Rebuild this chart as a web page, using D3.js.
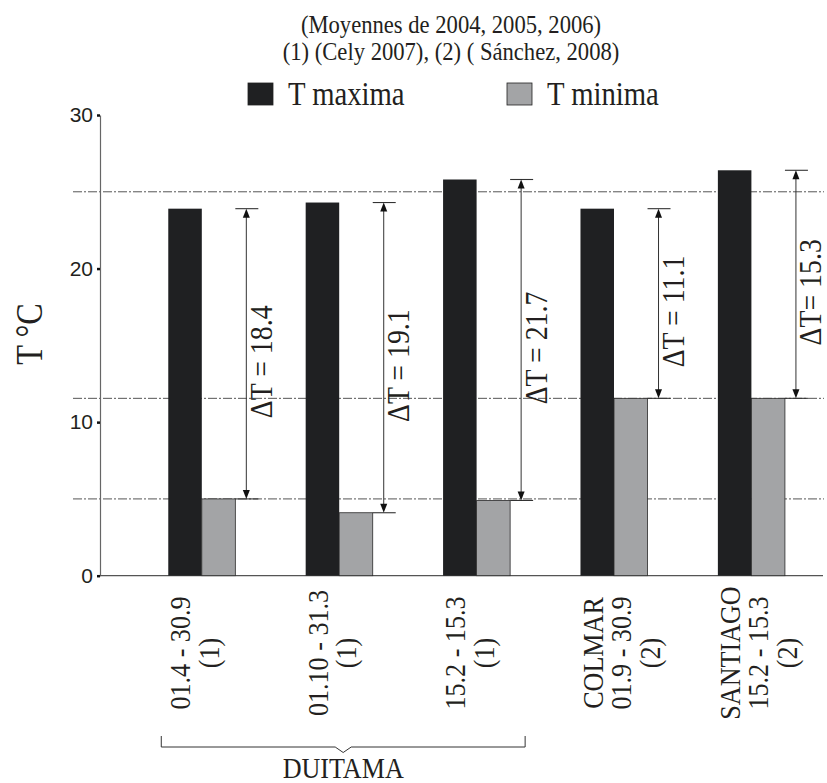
<!DOCTYPE html>
<html>
<head>
<meta charset="utf-8">
<script src="https://cdn.jsdelivr.net/npm/d3@7"></script>
<style>
  body { margin: 0; background: #fff; }
  svg { display: block; }
</style>
</head>
<body>
<div id="chart"></div>
<script>
// data
const categories = ["d1", "d2", "d3", "colmar", "santiago"];
const catLines = [
  ["01.4 - 30.9", "(1)"],
  ["01.10 - 31.3", "(1)"],
  ["15.2 - 15.3", "(1)"],
  ["COLMAR", "01.9 - 30.9", "(2)"],
  ["SANTIAGO", "15.2 - 15.3", "(2)"]
];
const tMax = [23.9, 24.3, 25.8, 23.9, 26.4];
const tMin = [5.0, 4.1, 4.9, 11.55, 11.55];
const deltaLabels = ["\u0394T = 18.4", "\u0394T = 19.1", "\u0394T = 21.7", "\u0394T = 11.1", "\u0394T= 15.3"];
const refLines = [25, 11.55, 5];
const yTicks = [0, 10, 20, 30];
const seriesNames = ["T maxima", "T minima"];
const titleLines = ["(Moyennes de 2004, 2005, 2006)", "(1) (Cely 2007), (2) ( S\u00e1nchez, 2008)"];

const width = 827, height = 783;
const serif = "Liberation Serif, Times New Roman, Tinos, DejaVu Serif, serif";
const colMax = "#1f2022", colMin = "#a3a4a6";

const svg = d3.select("#chart").append("svg")
  .attr("width", width)
  .attr("height", height);

// the original type is a condensed Times; work out how much to squeeze
// whatever serif font we actually got so widths come out the same
const probe = svg.append("text")
  .attr("font-family", serif)
  .attr("font-size", 100)
  .text(titleLines[0]);
const probeLen = probe.node().getComputedTextLength();
probe.remove();
const squeeze = 0.87 * (1327.6 / (probeLen || 1327.6));

const x = d3.scaleBand()
  .domain(categories)
  .range([100, 823])
  .paddingInner(0.512)
  .paddingOuter(0.387)
  .align(0.642);

const xSub = d3.scaleBand()
  .domain(["max", "min"])
  .range([0, x.bandwidth()]);

const y = d3.scaleLinear()
  .domain([0, 30])
  .range([575.7, 115]);

// condensed text helper
function ctext(parent, px, py, rot, str, size, anchor) {
  return parent.append("text")
    .attr("transform", `translate(${px},${py}) rotate(${rot}) scale(${squeeze},1)`)
    .attr("text-anchor", anchor || "start")
    .attr("font-family", serif)
    .attr("font-size", size)
    .attr("fill", "#231f20")
    .text(str);
}

// title
titleLines.forEach((t, i) => {
  ctext(svg, 451, 32.5 + i * 27, 0, t, 26, "middle");
});

// legend
const legend = svg.append("g");
[[248, colMax], [507, colMin]].forEach((d, i) => {
  legend.append("rect")
    .attr("x", d[0]).attr("y", 83)
    .attr("width", 25).attr("height", 22)
    .attr("fill", d[1])
    .attr("stroke", "#222")
    .attr("stroke-width", 0.8);
  ctext(legend, d[0] + 40, 105, 0, seriesNames[i], 33, "start");
});

// dash-dot reference lines
svg.selectAll(".ref")
  .data(refLines)
  .enter()
  .append("line")
  .attr("x1", 73).attr("x2", 824)
  .attr("y1", d => y(d)).attr("y2", d => y(d))
  .attr("stroke", "#555")
  .attr("stroke-width", 1)
  .attr("stroke-dasharray", "9,2,2,2");

// y axis
const yAxis = svg.append("g")
  .attr("transform", "translate(100,0)")
  .call(d3.axisLeft(y).tickValues(yTicks).tickSize(3).tickSizeOuter(0).tickPadding(4));
yAxis.select(".domain").attr("stroke", "#666").attr("stroke-width", 1.2);
yAxis.selectAll(".tick line").attr("stroke", "#111").attr("stroke-width", 2.5);
yAxis.selectAll(".tick text")
  .attr("font-family", "Liberation Sans, Arial, sans-serif")
  .attr("font-size", 21)
  .attr("fill", "#231f20");

ctext(svg, 42, 334, -90, "T \u00b0C", 37, "middle");

// x axis line
svg.append("line")
  .attr("x1", 100).attr("x2", 823)
  .attr("y1", y(0)).attr("y2", y(0))
  .attr("stroke", "#555")
  .attr("stroke-width", 1.2);

// bars
const groups = svg.selectAll(".grp")
  .data(categories)
  .enter()
  .append("g")
  .attr("transform", d => `translate(${x(d)},0)`);

groups.append("rect")
  .attr("x", xSub("max"))
  .attr("y", (d, i) => y(tMax[i]))
  .attr("width", xSub.bandwidth())
  .attr("height", (d, i) => y(0) - y(tMax[i]))
  .attr("fill", colMax);

groups.append("rect")
  .attr("x", xSub("min"))
  .attr("y", (d, i) => y(tMin[i]))
  .attr("width", xSub.bandwidth())
  .attr("height", (d, i) => y(0) - y(tMin[i]))
  .attr("fill", colMin)
  .attr("stroke", "#2a2a2a")
  .attr("stroke-width", 0.8);

// delta T arrows
const arrowCol = "#333";
categories.forEach((c, i) => {
  const ax = x(c) + x.bandwidth() + 11;
  const yt = y(tMax[i]), yb = y(tMin[i]);
  const g = svg.append("g");
  g.append("line")
    .attr("x1", ax).attr("x2", ax)
    .attr("y1", yt + 6).attr("y2", yb - 6)
    .attr("stroke", arrowCol).attr("stroke-width", 1);
  [yt, yb].forEach(yy => {
    g.append("line")
      .attr("x1", ax - 11).attr("x2", ax + 12)
      .attr("y1", yy).attr("y2", yy)
      .attr("stroke", arrowCol).attr("stroke-width", 1.1);
  });
  g.append("path")
    .attr("d", `M${ax},${yt} L${ax - 3.5},${yt + 9} L${ax + 3.5},${yt + 9} Z`)
    .attr("fill", "#111");
  g.append("path")
    .attr("d", `M${ax},${yb} L${ax - 3.5},${yb - 9} L${ax + 3.5},${yb - 9} Z`)
    .attr("fill", "#111");
  ctext(svg, ax + 25.5, (yt + yb) / 2 + 8, -90, deltaLabels[i], 32, "middle");
});

// category labels
categories.forEach((c, i) => {
  const cx = x(c) + xSub("min");
  catLines[i].forEach((t, j) => {
    ctext(svg, cx - 11.5 + j * 28.5, 653, -90, t, 30, "middle");
  });
});

// DUITAMA bracket
const bl = x(categories[0]) - 7;
const br = x(categories[2]) + x.bandwidth() + 15;
const bm = (bl + br) / 2;
svg.append("path")
  .attr("d", `M${bl},736 L${bl},747 L${bm - 8},747 L${bm},752.5 L${bm + 8},747 L${br},747 L${br},736`)
  .attr("fill", "none")
  .attr("stroke", "#333")
  .attr("stroke-width", 1);
ctext(svg, bm, 778, 0, "DUITAMA", 30, "middle");
</script>
</body>
</html>
